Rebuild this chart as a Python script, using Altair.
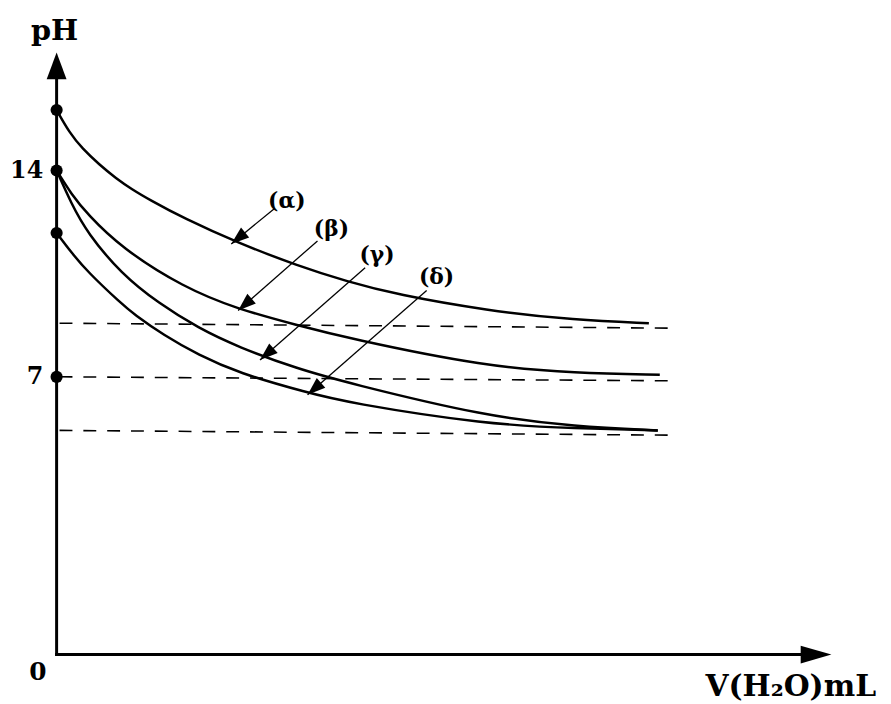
import math
import altair as alt
import pandas as pd

# ---------------- data ----------------
# x: added water volume (arbitrary units 0..100), y: pH
ALPHA_V = [0, 1.66, 3.33, 5.51, 7.68, 9.73, 11.91, 16.39, 23.43, 31.11, 37.52, 43.92, 55.44, 66.97, 76.44]
ALPHA_PH = [16.05, 15.28, 14.74, 14.20, 13.73, 13.36, 13.02, 12.38, 11.54, 10.77, 10.23, 9.79, 9.25, 8.92, 8.82]

BETA_V = [0, 1.92, 3.97, 8.32, 16.39, 23.43, 31.11, 37.52, 55.44, 66.97, 77.85]
BETA_PH = [14.00, 13.19, 12.52, 11.38, 10.03, 9.29, 8.75, 8.31, 7.34, 7.13, 7.07]

GAMMA_V = [0, 1.92, 3.97, 8.32, 13.19, 18.31, 23.43, 31.11, 37.52, 55.44, 66.97, 77.59]
GAMMA_PH = [14.00, 12.86, 11.88, 10.50, 9.49, 8.65, 8.01, 7.27, 6.85, 6.00, 5.75, 5.65]

DELTA_V = [0, 1.92, 3.97, 8.32, 9.99, 13.83, 18.31, 23.43, 32.39, 37.52, 55.44, 66.97, 77.59]
DELTA_PH = [11.88, 11.21, 10.57, 9.49, 9.12, 8.41, 7.74, 7.13, 6.60, 6.35, 5.80, 5.70, 5.65]

# dashed reference levels (start v, start pH, end v, end pH)
DASH_V1 = [0.38, 0.38, 0.38]
DASH_PH1 = [8.82, 7.00, 5.65]
DASH_V2 = [79.39, 79.13, 79.13]
DASH_PH2 = [8.65, 6.90, 5.53]

# marked points on the pH axis
DOT_PH = [16.05, 14, 11.88, 7]

# curve labels and their arrows
LABELS = ["(α)", "(β)", "(γ)", "(δ)"]
LABEL_V = [29.71, 35.47, 41.36, 49.04]
LABEL_PH = [12.96, 12.01, 11.14, 10.37]
ARROW_V_START = [28.17, 33.67, 39.82, 47.76]
ARROW_PH_START = [12.72, 11.61, 10.70, 9.93]
ARROW_V_TIP = [22.54, 23.43, 26.25, 32.39]
ARROW_PH_TIP = [11.51, 9.25, 7.57, 6.55]

Y_TICKS = [7, 14]

# ---------------- layout ----------------
W, H = 781, 607
Y_DOMAIN = [0, 7, 14, 18]
Y_RANGE = [607, 327, 119, 0]
FONT = "DejaVu Serif"


def px(v):
    return v * W / 100.0


def py(p):
    for i in range(len(Y_DOMAIN) - 1):
        d0, d1 = Y_DOMAIN[i], Y_DOMAIN[i + 1]
        if p <= d1 or i == len(Y_DOMAIN) - 2:
            r0, r1 = Y_RANGE[i], Y_RANGE[i + 1]
            return r0 + (p - d0) / (d1 - d0) * (r1 - r0)


xs = alt.Scale(domain=[0, 100], nice=False, zero=False)
ys = alt.Scale(domain=Y_DOMAIN, range=Y_RANGE, nice=False, zero=False)
yaxis = alt.Axis(values=Y_TICKS, domain=False, ticks=False, tickSize=0, grid=False,
                 title=None, labelFont=FONT, labelFontWeight="bold", labelFontSize=24,
                 labelColor="black", labelPadding=14)

X = lambda f="v": alt.X(f + ":Q", scale=xs, axis=None)
Y = lambda f="ph": alt.Y(f + ":Q", scale=ys, axis=yaxis)

rows = []
for name, vv, pp in [("α", ALPHA_V, ALPHA_PH), ("β", BETA_V, BETA_PH),
                     ("γ", GAMMA_V, GAMMA_PH), ("δ", DELTA_V, DELTA_PH)]:
    for v, p in zip(vv, pp):
        rows.append({"series": name, "v": v, "ph": p})
curves_df = pd.DataFrame(rows)

curves = alt.Chart(curves_df).mark_line(
    interpolate="basis", strokeWidth=2.5, color="black"
).encode(x=X(), y=Y(), detail="series:N")

dash_df = pd.DataFrame({"v": DASH_V1, "ph": DASH_PH1, "v2": DASH_V2, "ph2": DASH_PH2})
dashes = alt.Chart(dash_df).mark_rule(
    strokeDash=[13, 11], strokeWidth=1.6, color="black"
).encode(x=X(), y=Y(), x2="v2:Q", y2="ph2:Q")

axis_df = pd.DataFrame({"v": [0, 0], "ph": [0, 0], "v2": [96, 0], "ph2": [0, 17.2]})
axis_lines = alt.Chart(axis_df).mark_rule(
    strokeWidth=3, color="black", strokeCap="square"
).encode(x=X(), y=Y(), x2="v2:Q", y2="ph2:Q")

y_arrow = alt.Chart(pd.DataFrame({"v": [0], "ph": [18]})).mark_point(
    shape="M0,0 L-0.37,1 L0.37,1 Z", size=2916, filled=True, opacity=1,
    color="black", strokeWidth=0
).encode(x=X(), y=Y())

x_arrow = alt.Chart(pd.DataFrame({"v": [100], "ph": [0]})).mark_point(
    shape="M0,0 L-0.29,1 L0.29,1 Z", size=3844, filled=True, opacity=1,
    color="black", strokeWidth=0, angle=90
).encode(x=X(), y=Y())

dots = alt.Chart(pd.DataFrame({"v": [0] * len(DOT_PH), "ph": DOT_PH})).mark_point(
    shape="circle", size=150, filled=True, opacity=1, color="black", strokeWidth=0
).encode(x=X(), y=Y())

angles = []
for v0, p0, v1, p1 in zip(ARROW_V_START, ARROW_PH_START, ARROW_V_TIP, ARROW_PH_TIP):
    dx = px(v1) - px(v0)
    dy = py(p1) - py(p0)
    angles.append(math.degrees(math.atan2(dx, -dy)) % 360)

ann_df = pd.DataFrame({
    "label": LABELS, "lv": LABEL_V, "lph": LABEL_PH,
    "v": ARROW_V_START, "ph": ARROW_PH_START,
    "v2": ARROW_V_TIP, "ph2": ARROW_PH_TIP, "angle": angles,
})

arrow_lines = alt.Chart(ann_df).mark_rule(strokeWidth=1.3, color="black").encode(
    x=X(), y=Y(), x2="v2:Q", y2="ph2:Q")

arrow_heads = alt.Chart(ann_df).mark_point(
    shape="M0,0 L-0.36,1 L0.36,1 Z", size=1300, filled=True, opacity=1,
    color="black", strokeWidth=0
).encode(x=X("v2"), y=Y("ph2"), angle=alt.Angle("angle:Q", scale=None))

ann_text = alt.Chart(ann_df).mark_text(
    font=FONT, fontWeight="bold", fontSize=22, color="black",
    align="center", baseline="middle"
).encode(x=X("lv"), y=Y("lph"), text="label:N")

zero_lbl = alt.Chart(pd.DataFrame({"v": [0], "ph": [0], "t": ["0"]})).mark_text(
    font=FONT, fontWeight="bold", fontSize=25, color="black",
    align="center", baseline="middle", dx=-19, dy=18
).encode(x=X(), y=Y(), text="t:N")

ph_title = alt.Chart(pd.DataFrame({"v": [0], "ph": [18], "t": ["pH"]})).mark_text(
    font=FONT, fontWeight="bold", fontSize=29, color="black",
    align="center", baseline="middle", dx=-2, dy=-22
).encode(x=X(), y=Y(), text="t:N")

v_title = alt.Chart(pd.DataFrame({"v": [100], "ph": [0], "t": ["V(H₂O)mL"]})).mark_text(
    font=FONT, fontWeight="bold", fontSize=30, color="black",
    align="center", baseline="middle", dx=-41, dy=33
).encode(x=X(), y=Y(), text="t:N")

chart = alt.layer(
    dashes, curves, axis_lines, y_arrow, x_arrow, dots,
    arrow_lines, arrow_heads, ann_text, zero_lbl, ph_title, v_title
).properties(
    width=W, height=H,
    autosize=alt.AutoSizeParams(type="none"),
    padding={"left": 49, "top": 42, "right": 52, "bottom": 46},
).configure_view(stroke=None)

chart.save("out.html", embed_options={"renderer": "svg", "actions": False})
